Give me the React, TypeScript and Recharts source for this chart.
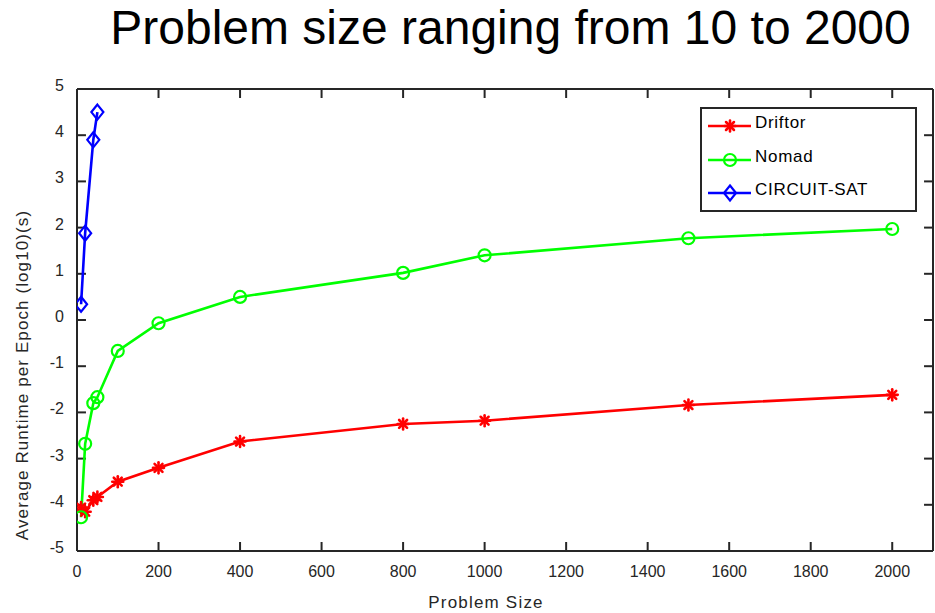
import { LineChart, Line, XAxis, YAxis, ReferenceLine } from 'recharts'

// problem sizes (x) shared by Driftor and Nomad
const problemSizes = [10, 20, 40, 50, 100, 200, 400, 800, 1000, 1500, 2000]
const driftorRuntime = [-4.06, -4.15, -3.9, -3.83, -3.5, -3.2, -2.63, -2.25, -2.18, -1.84, -1.62]
const nomadRuntime = [-4.27, -2.68, -1.8, -1.67, -0.67, -0.07, 0.5, 1.02, 1.4, 1.77, 1.97]

// CIRCUIT-SAT only ran on the small problems
const circuitSizes = [10, 20, 40, 50]
const circuitRuntime = [0.34, 1.88, 3.9, 4.5]

const xTicks = [0, 200, 400, 600, 800, 1000, 1200, 1400, 1600, 1800, 2000]
const yTicks = [-5, -4, -3, -2, -1, 0, 1, 2, 3, 4, 5]

const X_MAX = 2100
const Y_MIN = -5
const Y_MAX = 5

const driftorData = problemSizes.map((size, i) => ({ size, runtime: driftorRuntime[i] }))
const nomadData = problemSizes.map((size, i) => ({ size, runtime: nomadRuntime[i] }))
const circuitData = circuitSizes.map((size, i) => ({ size, runtime: circuitRuntime[i] }))

const AXIS = '#262626'
const FONT = '"Liberation Sans", Arial, Helvetica, sans-serif'
// inward tick length (~9px) expressed in axis units
const TICK_DX = 22
const TICK_DY = 0.195

const Asterisk = ({ cx, cy, stroke }: any) => {
  if (cx == null || cy == null) return null
  const r = 5.5
  const d = r * 0.72
  return (
    <g stroke={stroke} strokeWidth={2.6} strokeLinecap="round">
      <line x1={cx - r} y1={cy} x2={cx + r} y2={cy} />
      <line x1={cx} y1={cy - r} x2={cx} y2={cy + r} />
      <line x1={cx - d} y1={cy - d} x2={cx + d} y2={cy + d} />
      <line x1={cx - d} y1={cy + d} x2={cx + d} y2={cy - d} />
    </g>
  )
}

const Ring = ({ cx, cy, stroke }: any) => {
  if (cx == null || cy == null) return null
  return <circle cx={cx} cy={cy} r={6} fill="none" stroke={stroke} strokeWidth={2.2} />
}

const Diamond = ({ cx, cy, stroke }: any) => {
  if (cx == null || cy == null) return null
  const w = 6
  const h = 7.5
  return (
    <path
      d={`M${cx},${cy - h}L${cx + w},${cy}L${cx},${cy + h}L${cx - w},${cy}Z`}
      fill="none"
      stroke={stroke}
      strokeWidth={2.2}
    />
  )
}

const BottomTick = ({ x, y, payload }: any) => (
  <text x={x} y={y + 26} textAnchor="middle" fill={AXIS} fontSize={16} fontFamily={FONT}>
    {payload.value}
  </text>
)

const LeftTick = ({ x, y, payload }: any) => (
  <text x={x - 13} y={y + 2} textAnchor="end" fill={AXIS} fontSize={16} fontFamily={FONT}>
    {payload.value}
  </text>
)

const legendItems = [
  { name: 'Driftor', color: '#ff0000', Marker: Asterisk },
  { name: 'Nomad', color: '#00ff00', Marker: Ring },
  { name: 'CIRCUIT-SAT', color: '#0000ff', Marker: Diamond },
]

const LegendBox = () => (
  <div
    style={{
      position: 'absolute',
      left: 700,
      top: 107,
      width: 217,
      height: 105,
      boxSizing: 'border-box',
      border: `2px solid ${AXIS}`,
      background: '#fff',
    }}
  >
    {legendItems.map(({ name, color, Marker }, i) => (
      <div
        key={name}
        style={{ position: 'absolute', left: 5, top: 5 + i * 33.5, height: 24, display: 'flex', alignItems: 'center' }}
      >
        <svg width={46} height={24}>
          <line x1={1} y1={12} x2={44} y2={12} stroke={color} strokeWidth={2.6} />
          <Marker cx={23} cy={12} stroke={color} />
        </svg>
        <span
          style={{
            fontFamily: FONT,
            fontSize: 17,
            letterSpacing: 0.7,
            color: '#000',
            marginLeft: 2,
            marginTop: -6,
          }}
        >
          {name}
        </span>
      </div>
    ))}
  </div>
)

export default function App() {
  return (
    <div style={{ position: 'absolute', left: 0, top: 0, width: 935, height: 613, background: '#fff' }}>
      <div
        style={{
          position: 'absolute',
          left: 0,
          width: 1021,
          top: 1,
          textAlign: 'center',
          fontFamily: FONT,
          fontSize: 48,
          color: '#000',
          lineHeight: '54px',
        }}
      >
        Problem size ranging from 10 to 2000
      </div>
      <LineChart width={935} height={613} margin={{ top: 89, right: 2, bottom: 0, left: 0 }}>
        <XAxis
          dataKey="size"
          type="number"
          domain={[0, X_MAX]}
          ticks={xTicks}
          height={62}
          allowDataOverflow
          axisLine={{ stroke: AXIS, strokeWidth: 2 }}
          tickLine={false}
          tickSize={0}
          tickMargin={0}
          tick={BottomTick}
          label={({ viewBox }: any) => (
            <text
              x={486}
              y={viewBox.y + 57}
              textAnchor="middle"
              fill={AXIS}
              fontSize={17}
              letterSpacing={1.2}
              fontFamily={FONT}
            >
              Problem Size
            </text>
          )}
        />
        <YAxis
          type="number"
          domain={[Y_MIN, Y_MAX]}
          ticks={yTicks}
          width={77}
          allowDataOverflow
          axisLine={{ stroke: AXIS, strokeWidth: 2 }}
          tickLine={false}
          tickSize={0}
          tickMargin={0}
          tick={LeftTick}
          label={() => {
            const cx = 22
            const cy = 375
            return (
              <text
                x={cx}
                y={cy}
                transform={`rotate(-90 ${cx} ${cy})`}
                textAnchor="middle"
                dominantBaseline="central"
                fill={AXIS}
                fontSize={17}
                letterSpacing={1.1}
                fontFamily={FONT}
              >
                Average Runtime per Epoch (log10)(s)
              </text>
            )
          }}
        />
        {/* box: top and right edges */}
        <ReferenceLine y={Y_MAX} stroke={AXIS} strokeWidth={2} />
        <ReferenceLine x={X_MAX} stroke={AXIS} strokeWidth={2} />
        {/* inward ticks on all four sides */}
        {xTicks.map((t) => (
          <ReferenceLine
            key={`xb${t}`}
            segment={[{ x: t, y: Y_MIN }, { x: t, y: Y_MIN + TICK_DY }]}
            stroke={AXIS}
            strokeWidth={2}
          />
        ))}
        {xTicks.map((t) => (
          <ReferenceLine
            key={`xt${t}`}
            segment={[{ x: t, y: Y_MAX }, { x: t, y: Y_MAX - TICK_DY }]}
            stroke={AXIS}
            strokeWidth={2}
          />
        ))}
        {yTicks.map((t) => (
          <ReferenceLine
            key={`yl${t}`}
            segment={[{ x: 0, y: t }, { x: TICK_DX, y: t }]}
            stroke={AXIS}
            strokeWidth={2}
          />
        ))}
        {yTicks.map((t) => (
          <ReferenceLine
            key={`yr${t}`}
            segment={[{ x: X_MAX, y: t }, { x: X_MAX - TICK_DX, y: t }]}
            stroke={AXIS}
            strokeWidth={2}
          />
        ))}
        <Line
          data={driftorData}
          dataKey="runtime"
          name="Driftor"
          stroke="#ff0000"
          strokeWidth={2.6}
          dot={<Asterisk />}
          isAnimationActive={false}
        />
        <Line
          data={nomadData}
          dataKey="runtime"
          name="Nomad"
          stroke="#00ff00"
          strokeWidth={2.6}
          dot={<Ring />}
          isAnimationActive={false}
        />
        <Line
          data={circuitData}
          dataKey="runtime"
          name="CIRCUIT-SAT"
          stroke="#0000ff"
          strokeWidth={2.6}
          dot={<Diamond />}
          isAnimationActive={false}
        />
      </LineChart>
      <LegendBox />
    </div>
  )
}
